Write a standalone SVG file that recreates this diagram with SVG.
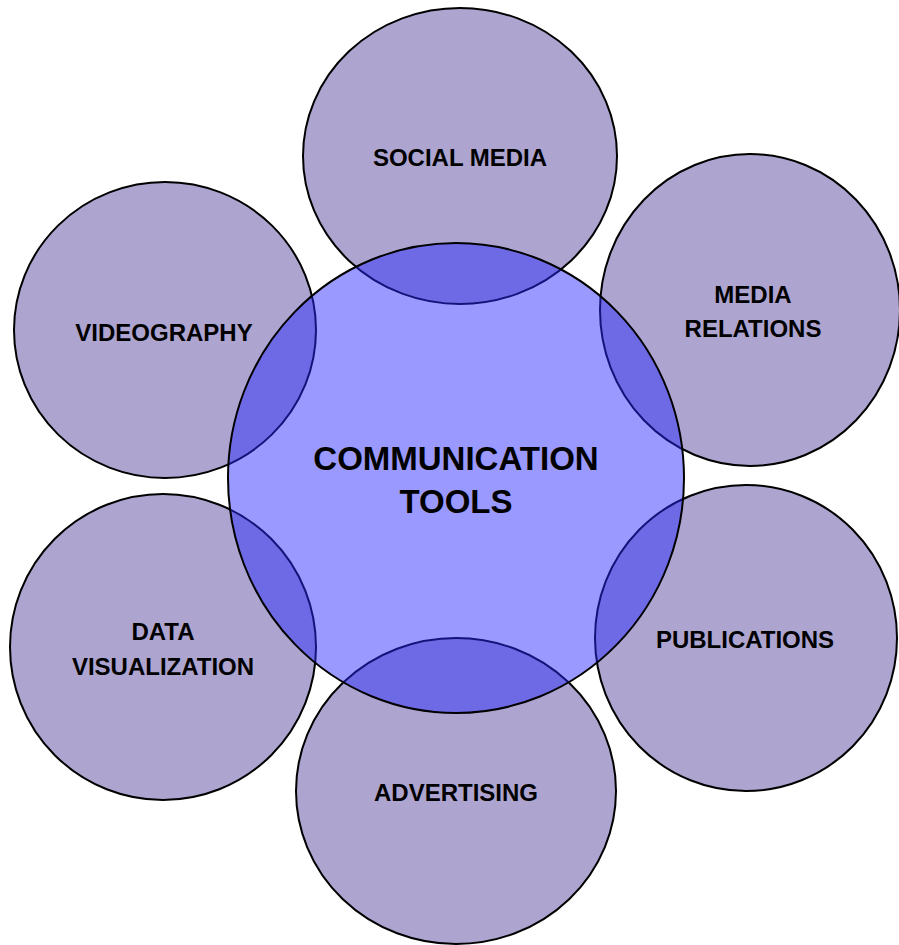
<svg xmlns="http://www.w3.org/2000/svg" width="899" height="945" viewBox="0 0 899 945">
<style>
.outer{fill:#ADA5D0;stroke:#000;stroke-width:2}
.center{fill:#2929FF;fill-opacity:0.476;stroke:#000;stroke-width:2}
text{font-family:"Liberation Sans",Arial,sans-serif;font-weight:bold;fill:#000;text-anchor:middle}
.s{font-size:24px}
.b{font-size:33px}
</style>
<rect width="899" height="945" fill="#fff"/>
<g id="social-media"><ellipse class="outer" cx="460" cy="156" rx="157" ry="148"/><text class="s" x="460" y="166">SOCIAL MEDIA</text></g>
<g id="media-relations"><ellipse class="outer" cx="750" cy="310" rx="150" ry="156"/><text class="s" x="753" y="303">MEDIA</text><text class="s" x="753" y="337">RELATIONS</text></g>
<g id="publications"><ellipse class="outer" cx="746" cy="638" rx="151" ry="153"/><text class="s" x="745" y="648">PUBLICATIONS</text></g>
<g id="advertising"><ellipse class="outer" cx="456" cy="791" rx="160" ry="153"/><text class="s" x="456" y="801">ADVERTISING</text></g>
<g id="data-visualization"><ellipse class="outer" cx="163" cy="647" rx="153" ry="153"/><text class="s" x="163" y="640">DATA</text><text class="s" x="163" y="675">VISUALIZATION</text></g>
<g id="videography"><ellipse class="outer" cx="165" cy="330" rx="151" ry="148"/><text class="s" x="164" y="341">VIDEOGRAPHY</text></g>
<g id="communication-tools"><ellipse class="center" cx="456" cy="478" rx="228" ry="235"/><text class="b" x="456" y="470">COMMUNICATION</text><text class="b" x="456" y="513">TOOLS</text></g>
<g id="connectors"></g>
</svg>
